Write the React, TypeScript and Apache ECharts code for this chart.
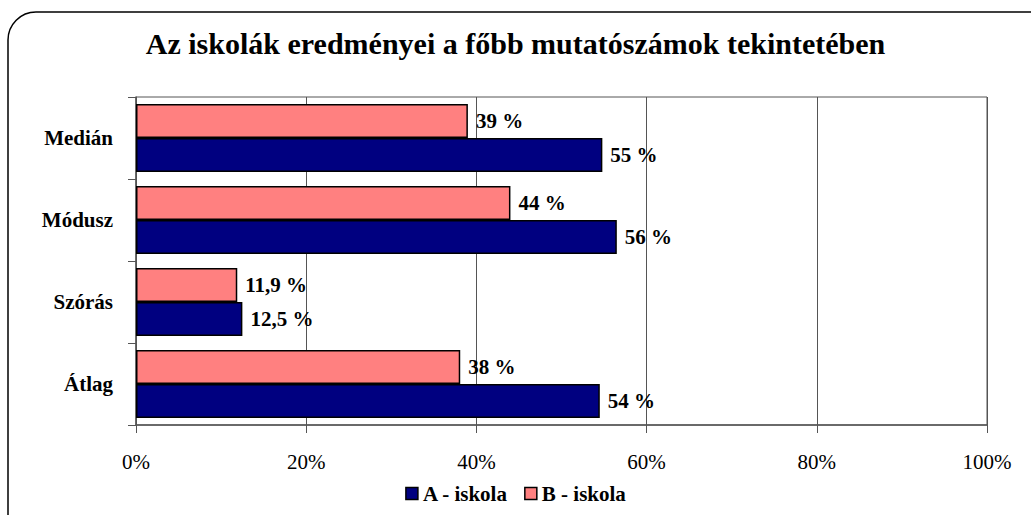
import React, { useEffect, useRef } from "react";
import * as echarts from "echarts";

const categories = ["Átlag", "Szórás", "Módusz", "Medián"];
const seriesAName = "A - iskola";
const seriesBName = "B - iskola";
const seriesA = [54.5, 12.5, 56.5, 54.8];
const seriesB = [38.1, 11.9, 44, 39];
const labelsA = ["54 %", "12,5 %", "56 %", "55 %"];
const labelsB = ["38 %", "11,9 %", "44 %", "39 %"];
const xTicks = [0, 20, 40, 60, 80, 100];

const FONT = "'Liberation Serif', 'Times New Roman', serif";

export default function App() {
  const ref = useRef<HTMLDivElement>(null);
  useEffect(() => {
    if (!ref.current) return;
    const chart = echarts.init(ref.current, undefined, { renderer: "svg" });
    const labelStyle = {
      show: true,
      position: "right",
      distance: 8,
      fontFamily: FONT,
      fontWeight: "bold",
      fontSize: 21,
      color: "#000",
    };
    chart.setOption({
      animation: false,
      backgroundColor: "#fff",
      title: {
        text: "Az iskolák eredményei a főbb mutatószámok tekintetében",
        left: "center",
        top: 23,
        textStyle: { fontFamily: FONT, fontWeight: "bold", fontSize: 30, color: "#000" },
      },
      legend: {
        bottom: 6,
        left: "center",
        itemWidth: 12,
        itemHeight: 12,
        itemGap: 16,
        icon: "rect",
        data: [seriesAName, seriesBName],
        textStyle: { fontFamily: FONT, fontWeight: "bold", fontSize: 21, color: "#000" },
        itemStyle: { borderColor: "#000", borderWidth: 1.5 },
      },
      grid: {
        left: 136,
        right: 44,
        top: 97,
        bottom: 90,
        show: true,
        borderColor: "#555",
        borderWidth: 1,
      },
      xAxis: {
        type: "value",
        min: 0,
        max: 100,
        interval: 20,
        axisLine: { show: true, lineStyle: { color: "#555", width: 1.5 } },
        axisTick: { show: true, length: 8, lineStyle: { color: "#555" } },
        splitLine: { show: true, lineStyle: { color: "#555", width: 1 } },
        axisLabel: {
          margin: 26,
          fontFamily: FONT,
          fontSize: 21,
          color: "#000",
          formatter: (v: number) => (xTicks.includes(v) ? v + "%" : ""),
        },
      },
      yAxis: {
        type: "category",
        data: categories,
        axisLine: { show: true, lineStyle: { color: "#555", width: 1.5 } },
        axisTick: { show: true, length: 8, lineStyle: { color: "#555" } },
        axisLabel: { margin: 23, fontFamily: FONT, fontWeight: "bold", fontSize: 21, color: "#000" },
      },
      series: [
        {
          name: seriesBName,
          type: "bar",
          data: seriesB,
          barWidth: 34,
          barGap: "0%",
          itemStyle: { color: "#FF8080", borderColor: "#000", borderWidth: 1.5 },
          label: { ...labelStyle, formatter: (p: any) => labelsB[p.dataIndex] },
        },
        {
          name: seriesAName,
          type: "bar",
          data: seriesA,
          barWidth: 34,
          barGap: "0%",
          itemStyle: { color: "#000080", borderColor: "#000", borderWidth: 1.5 },
          label: { ...labelStyle, formatter: (p: any) => labelsA[p.dataIndex] },
        },
      ],
      graphic: [
        {
          type: "rect",
          silent: true,
          z: 100,
          shape: { x: 8, y: 12, width: 1050, height: 530, r: 28 },
          style: { fill: "none", stroke: "#000", lineWidth: 1.5 },
        },
      ],
    });
    return () => chart.dispose();
  }, []);
  return (
    <div
      ref={ref}
      style={{ position: "fixed", left: 0, top: 0, width: 1031, height: 515 }}
    />
  );
}
